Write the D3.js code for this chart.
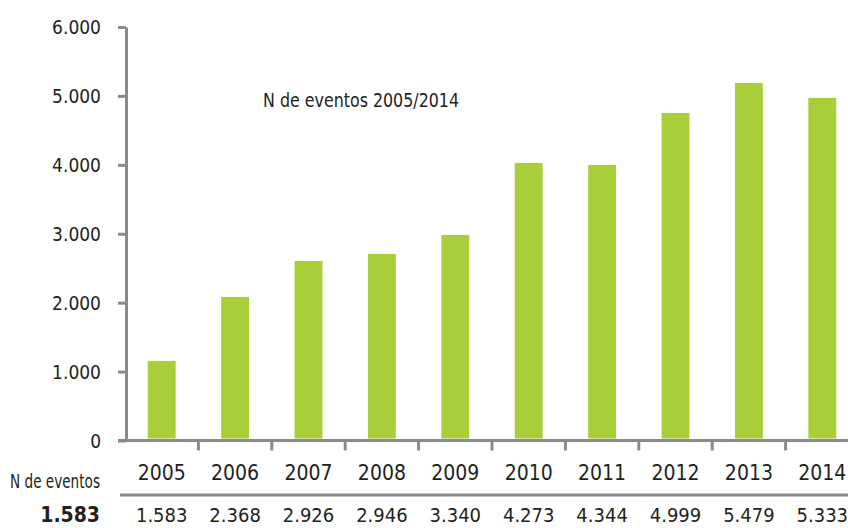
<!DOCTYPE html>
<html>
<head>
<meta charset="utf-8">
<script src="https://cdn.jsdelivr.net/npm/d3@7"></script>
<style>
  html, body { margin: 0; padding: 0; background: #fff; }
  svg text { font-family: "Liberation Sans Narrow", "DejaVu Sans Condensed", "Roboto", sans-serif; fill: #231f20; }
</style>
</head>
<body>
<svg id="chart" width="848" height="528"></svg>
<script>
// datos
const years = ["2005", "2006", "2007", "2008", "2009", "2010", "2011", "2012", "2013", "2014"];
// altura de las barras
const barValues = [1155, 2083, 2605, 2707, 2983, 4028, 3999, 4753, 5189, 4971];
// fila de la tabla
const tableValues = [1583, 2368, 2926, 2946, 3340, 4273, 4344, 4999, 5479, 5333];
const yTicks = [0, 1000, 2000, 3000, 4000, 5000, 6000];
const title = "N de eventos 2005/2014";
const rowLabel = "N de eventos";

const green = "#a8cf3a";
const gray = "#8a8a8a";

const locale = d3.formatLocale({ decimal: ",", thousands: ".", grouping: [3], currency: ["", ""] });
const fmt = locale.format(",d");

const svg = d3.select("#chart");

// escalas
const x = d3.scaleBand()
    .domain(years)
    .range([125, 859])
    .paddingInner(0.62)
    .paddingOuter(0.31);

const y = d3.scaleLinear()
    .domain([0, 6000])
    .range([440.5, 27]);

// barras
svg.append("g")
    .selectAll("rect")
    .data(years.map((d, i) => ({ year: d, value: barValues[i] })))
    .enter().append("rect")
    .attr("x", d => x(d.year))
    .attr("y", d => y(d.value))
    .attr("width", x.bandwidth())
    .attr("height", d => y(0) - y(d.value) - 2)
    .attr("fill", green);

// eje Y
const yAxis = svg.append("g")
    .attr("transform", "translate(126,0)")
    .call(d3.axisLeft(y).tickValues(yTicks).tickFormat(fmt).tickSize(8).tickSizeOuter(0).tickPadding(17));
yAxis.select(".domain").attr("stroke", gray).attr("stroke-width", 3);
yAxis.selectAll(".tick line").attr("stroke", gray).attr("stroke-width", 3);
yAxis.selectAll(".tick text")
    .attr("font-size", 19)
    .attr("font-family", null)
    .attr("fill", null)
    .attr("dy", "0.36em");

// eje X: línea base y marcas entre categorías
const step = x.step();
svg.append("line")
    .attr("x1", 118).attr("x2", 848)
    .attr("y1", y(0)).attr("y2", y(0))
    .attr("stroke", gray).attr("stroke-width", 3);

svg.append("g")
    .selectAll("line")
    .data(years.slice(1))
    .enter().append("line")
    .attr("x1", d => x(d) - step * x.paddingInner() / 2)
    .attr("x2", d => x(d) - step * x.paddingInner() / 2)
    .attr("y1", y(0))
    .attr("y2", y(0) + 10)
    .attr("stroke", gray)
    .attr("stroke-width", 3);

// etiquetas de años
svg.append("g")
    .selectAll("text")
    .data(years)
    .enter().append("text")
    .attr("x", d => x(d) + x.bandwidth() / 2)
    .attr("y", 480)
    .attr("text-anchor", "middle")
    .attr("font-size", 21)
    .text(d => d);

// separador de la tabla
svg.append("line")
    .attr("x1", 120).attr("x2", 848)
    .attr("y1", 495).attr("y2", 495)
    .attr("stroke", gray).attr("stroke-width", 3);

// valores de la tabla
svg.append("g")
    .selectAll("text")
    .data(years.map((d, i) => ({ year: d, value: tableValues[i] })))
    .enter().append("text")
    .attr("x", d => x(d.year) + x.bandwidth() / 2)
    .attr("y", 522)
    .attr("text-anchor", "middle")
    .attr("font-size", 20)
    .text(d => fmt(d.value));

// etiquetas de la izquierda
svg.append("text")
    .attr("x", 100)
    .attr("y", 488)
    .attr("text-anchor", "end")
    .attr("font-size", 19)
    .attr("textLength", 90)
    .attr("lengthAdjust", "spacingAndGlyphs")
    .text(rowLabel);

svg.append("text")
    .attr("x", 100)
    .attr("y", 522)
    .attr("text-anchor", "end")
    .attr("font-size", 21)
    .attr("font-weight", "bold")
    .text(fmt(tableValues[0]));

// título
svg.append("text")
    .attr("x", 263)
    .attr("y", 107)
    .attr("font-size", 19)
    .attr("textLength", 196)
    .attr("lengthAdjust", "spacingAndGlyphs")
    .text(title);
</script>
</body>
</html>
